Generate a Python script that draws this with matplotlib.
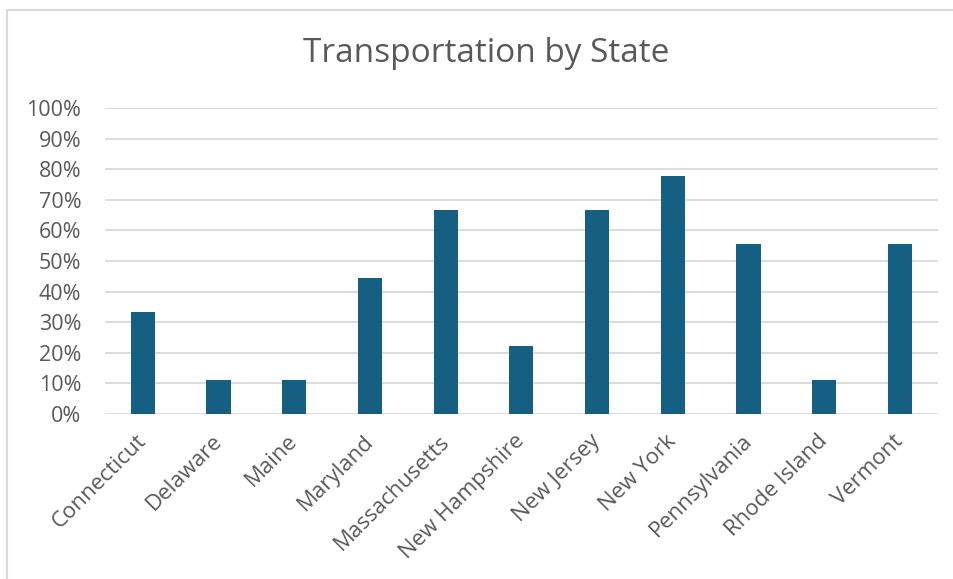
import matplotlib

matplotlib.use('Agg')
import matplotlib.pyplot as plt
from matplotlib.patches import Rectangle
from matplotlib.ticker import PercentFormatter
from matplotlib.transforms import ScaledTranslation
import numpy as np

states = ['Connecticut', 'Delaware', 'Maine', 'Maryland', 'Massachusetts',
          'New Hampshire', 'New Jersey', 'New York', 'Pennsylvania',
          'Rhode Island', 'Vermont']
share = [3 / 9, 1 / 9, 1 / 9, 4 / 9, 6 / 9, 2 / 9, 6 / 9, 7 / 9, 5 / 9, 1 / 9, 5 / 9]
y_ticks = [0, 0.1, 0.2, 0.3, 0.4, 0.5, 0.6, 0.7, 0.8, 0.9, 1.0]

plt.rcParams['font.family'] = ['Open Sans', 'DejaVu Sans']
text_col = '#595959'
grid_col = '#d9d9d9'

fig = plt.figure(figsize=(9.54, 5.79), dpi=100)
ax = fig.add_axes([0.110, 0.285, 0.873, 0.5285])

x = np.arange(len(states))
ax.bar(x, share, width=0.32, color='#156082', zorder=3)

ax.set_ylim(0, 1)
ax.set_xlim(-0.5, len(states) - 0.5)
ax.set_yticks(y_ticks)
ax.yaxis.set_major_formatter(PercentFormatter(1.0, decimals=0))
ax.set_xticks(x)
ax.set_xticklabels(states, rotation=45, ha='right', rotation_mode='anchor')
ax.tick_params(axis='y', length=0, labelsize=15.5, colors=text_col, pad=17)
ax.tick_params(axis='x', length=0, labelsize=16, colors=text_col, pad=12)
# shift x labels a little left so they end right under the bar
shift = ScaledTranslation(-7 / 100, 0, fig.dpi_scale_trans)
for lbl in ax.get_xticklabels():
    lbl.set_transform(lbl.get_transform() + shift)
ax.grid(axis='y', color=grid_col, linewidth=1.3, zorder=0)
for s in ax.spines.values():
    s.set_visible(False)

fig.text(486 / 954, 1 - 53 / 579, 'Transportation by State', ha='center',
         va='center', fontsize=24, color=text_col)

# chart border (right and bottom edges fall outside the picture)
fig.patches.append(Rectangle((7 / 954, -0.1), 1.1, 1 - 10 / 579 + 0.1,
                             transform=fig.transFigure, fill=False,
                             edgecolor=grid_col, linewidth=1.5))

fig.savefig('out.png', dpi=100, facecolor='w')
plt.close(fig)
